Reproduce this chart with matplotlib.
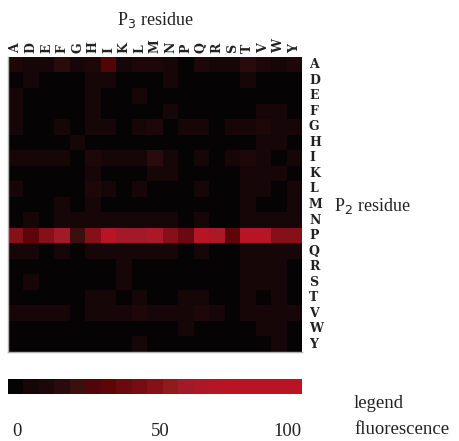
import numpy as np
import matplotlib
matplotlib.use("Agg")
import matplotlib.pyplot as plt
from matplotlib.colors import ListedColormap, BoundaryNorm

# Amino acid residues (P3 across, P2 down)
residues = ["A", "D", "E", "F", "G", "H", "I", "K", "L", "M",
            "N", "P", "Q", "R", "S", "T", "V", "W", "Y"]

# relative fluorescence (0-100), one row per P2 residue
row_A = [12, 10, 6, 17, 8, 12, 28, 6, 14, 12, 9, 3, 12, 7, 7, 19, 12, 7, 12]
row_D = [0, 9, 0, 0, 0, 7, 7, 0, 0, 0, 8, 0, 0, 0, 0, 7, 0, 0, 0]
row_E = [7, 0, 0, 0, 0, 7, 0, 0, 7, 0, 0, 0, 0, 0, 0, 0, 0, 0, 0]
row_F = [6, 0, 0, 0, 3, 7, 0, 0, 0, 0, 8, 0, 0, 0, 0, 0, 6, 6, 0]
row_G = [6, 0, 0, 8, 0, 10, 9, 0, 9, 15, 0, 6, 7, 0, 7, 8, 12, 7, 6]
row_H = [0, 0, 0, 0, 8, 0, 0, 0, 0, 0, 0, 5, 0, 0, 0, 0, 6, 6, 0]
row_I = [7, 7, 7, 10, 0, 15, 8, 8, 9, 17, 10, 0, 7, 0, 7, 15, 7, 0, 7]
row_K = [0, 0, 0, 0, 0, 7, 0, 0, 0, 6, 6, 0, 0, 0, 0, 6, 6, 6, 0]
row_L = [6, 0, 0, 0, 0, 15, 7, 0, 7, 0, 0, 0, 6, 0, 0, 6, 6, 0, 6]
row_M = [0, 0, 0, 6, 0, 6, 0, 0, 0, 0, 0, 0, 0, 0, 0, 6, 0, 0, 6]
row_N = [0, 7, 0, 10, 7, 8, 8, 10, 7, 8, 8, 0, 8, 0, 0, 7, 7, 7, 10]
row_P = [48, 33, 50, 58, 22, 50, 92, 62, 60, 68, 50, 38, 92, 65, 32, 95, 95, 50, 50]
row_Q = [7, 7, 0, 10, 0, 6, 6, 6, 6, 7, 6, 0, 7, 0, 0, 7, 7, 6, 6]
row_R = [0, 0, 0, 0, 0, 0, 0, 6, 0, 0, 0, 0, 0, 0, 0, 6, 6, 6, 0]
row_S = [0, 7, 0, 0, 0, 0, 0, 6, 0, 0, 0, 0, 0, 0, 0, 6, 8, 7, 0]
row_T = [0, 0, 0, 0, 0, 7, 7, 0, 8, 0, 0, 6, 7, 0, 0, 7, 0, 6, 0]
row_V = [8, 8, 8, 8, 0, 10, 9, 10, 12, 9, 7, 6, 15, 10, 0, 7, 7, 7, 7]
row_W = [0, 0, 0, 0, 3, 0, 0, 0, 0, 0, 0, 6, 0, 0, 0, 0, 6, 6, 0]
row_Y = [0, 0, 0, 0, 0, 0, 0, 0, 6, 0, 0, 0, 0, 0, 0, 0, 0, 6, 0]

data = np.array([row_A, row_D, row_E, row_F, row_G, row_H, row_I, row_K, row_L, row_M,
                 row_N, row_P, row_Q, row_R, row_S, row_T, row_V, row_W, row_Y])

# stepped black -> red scale like the legend bar
steps = ["#050304", "#170607", "#1e0709", "#2a0b0d", "#3a0f0e", "#520508", "#5e0508",
         "#6a0a10", "#770c15", "#861018", "#901a1e", "#a21a28", "#ad1828", "#b61527",
         "#b91426", "#b91426", "#b91426", "#b91426", "#b91426"]
cmap = ListedColormap(steps)
bounds = np.linspace(0, 100, len(steps) + 1)
norm = BoundaryNorm(bounds, cmap.N)

W, H = 459, 441
fig = plt.figure(figsize=(W / 100, H / 100), dpi=100)
fig.patch.set_facecolor("white")

def ax_rect(x0, y0, x1, y1):
    return [x0 / W, 1 - y1 / H, (x1 - x0) / W, (y1 - y0) / H]

ax = fig.add_axes(ax_rect(8, 57, 302, 352))
ax.imshow(data, cmap=cmap, norm=norm, aspect="auto", interpolation="nearest")
ax.set_xticks([])
ax.set_yticks([])
for side in ["top", "right"]:
    ax.spines[side].set_visible(False)
for side in ["left", "bottom"]:
    ax.spines[side].set_color("#b0b0b0")
    ax.spines[side].set_linewidth(1.0)

label_font = dict(family="DejaVu Serif", fontweight="bold", fontsize=9, color="#222222")
for i, r in enumerate(residues):
    ax.text(i, -0.75, r, rotation=90, ha="center", va="bottom", **label_font)
    ax.text(18.95, i, r, ha="left", va="center", **label_font)

serif = dict(family="Liberation Serif", color="#222222")
fig.text(155 / W, 1 - 20 / H, "P$_3$ residue", ha="center", va="center", fontsize=13, **serif)
fig.text(334 / W, 1 - 206 / H, "P$_2$ residue", ha="left", va="center", fontsize=13, **serif)

# legend bar
cax = fig.add_axes(ax_rect(8, 379, 302, 394))
cax.imshow(np.array([bounds[:-1] + 1]), cmap=cmap, norm=norm, aspect="auto",
           interpolation="nearest", extent=[0, 100, 0, 1])
cax.set_xticks([])
cax.set_yticks([])
for s in cax.spines.values():
    s.set_visible(False)

fig.text(12 / W, 1 - 431 / H, "0", ha="left", va="center", fontsize=13.5, **serif)
fig.text(160 / W, 1 - 431 / H, "50", ha="center", va="center", fontsize=13.5, **serif)
fig.text(302 / W, 1 - 431 / H, "100", ha="right", va="center", fontsize=13.5, **serif)
fig.text(354 / W, 1 - 404 / H, "legend", ha="left", va="center", fontsize=13.5, **serif)
fig.text(354 / W, 1 - 430 / H, "fluorescence", ha="left", va="center", fontsize=13.5, **serif)

fig.savefig("out.png", dpi=100)
